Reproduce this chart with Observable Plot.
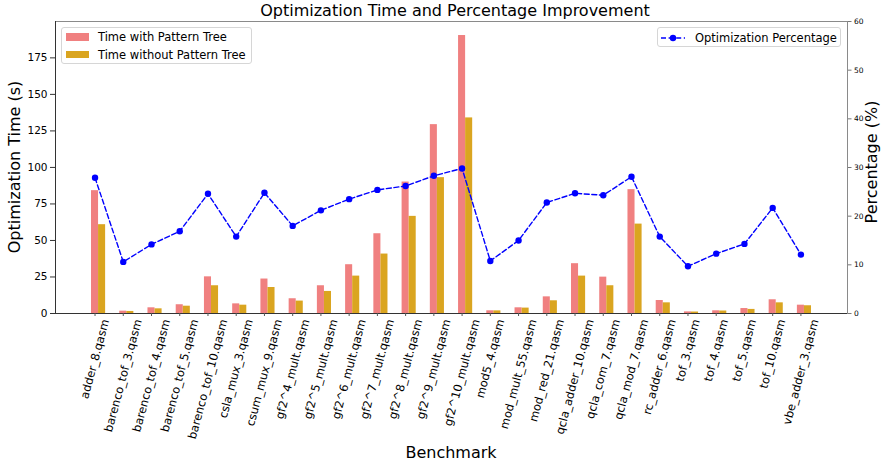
<!DOCTYPE html>
<html><head><meta charset="utf-8">
<script src="https://cdn.jsdelivr.net/npm/d3@7"></script>
<script src="https://cdn.jsdelivr.net/npm/@observablehq/plot@0.6"></script>
<style>
body{margin:0;background:#fff;font-family:"DejaVu Sans",sans-serif;}
#wrap{position:relative;width:884px;height:467px;overflow:hidden;}
#wrap > svg{position:absolute;left:0;top:0;}
.abs{position:absolute;white-space:nowrap;color:#000;}
.legend{position:absolute;background:rgba(255,255,255,0.85);border:1px solid #d6d6d6;border-radius:3px;box-sizing:border-box;font-size:11.5px;}
.row{position:absolute;left:0;display:flex;align-items:center;}
.row svg{display:block;}
</style></head>
<body><div id="wrap"></div>
<script>
const benchmarks = ["adder_8.qasm","barenco_tof_3.qasm","barenco_tof_4.qasm","barenco_tof_5.qasm","barenco_tof_10.qasm","csla_mux_3.qasm","csum_mux_9.qasm","gf2^4_mult.qasm","gf2^5_mult.qasm","gf2^6_mult.qasm","gf2^7_mult.qasm","gf2^8_mult.qasm","gf2^9_mult.qasm","gf2^10_mult.qasm","mod5_4.qasm","mod_mult_55.qasm","mod_red_21.qasm","qcla_adder_10.qasm","qcla_com_7.qasm","qcla_mod_7.qasm","rc_adder_6.qasm","tof_3.qasm","tof_4.qasm","tof_5.qasm","tof_10.qasm","vbe_adder_3.qasm"];
const timeWithPatternTree = [84.1,1.6,3.9,6.0,25.1,6.6,23.6,10.1,19.0,33.4,54.6,90.0,129.3,190.3,1.85,3.9,11.4,34.1,24.9,84.8,8.9,1.1,1.85,3.4,9.4,5.7];
const timeWithoutPatternTree = [60.8,1.4,3.2,5.0,19.0,5.7,17.8,8.5,15.1,25.6,40.7,66.5,93.0,133.9,1.8,3.7,8.7,25.6,19.0,61.2,7.3,1.0,1.7,2.8,7.3,5.3];
const optimizationPercentage = [27.9,10.6,14.2,16.9,24.6,15.8,24.8,18.0,21.2,23.5,25.4,26.2,28.3,29.8,10.8,15.0,22.8,24.7,24.3,28.1,15.8,9.7,12.3,14.3,21.7,12.1];
const timeTicks = [0,25,50,75,100,125,150,175];
const percentTicks = [0,10,20,30,40,50,60];

const timeMax = 199.9, percentMax = 60;
const K = timeMax / percentMax;
const barW = 0.25;
const xDomain = [-1.4, 26.65];

const rows = benchmarks.map((name, i) => ({
  i, name,
  withPT: timeWithPatternTree[i],
  withoutPT: timeWithoutPatternTree[i],
  pct: optimizationPercentage[i]
}));

const chart = Plot.plot({
  width: 884, height: 467,
  marginLeft: 55, marginRight: 37, marginTop: 21, marginBottom: 154,
  style: {fontFamily: "DejaVu Sans", fontSize: "10.5px", color: "#000", background: "#fff"},
  x: {type: "linear", domain: xDomain},
  y: {domain: [0, timeMax]},
  marks: [
    Plot.rectY(rows, {x1: d => d.i - barW/2, x2: d => d.i + barW/2, y1: 0, y2: "withPT", fill: "#F08080"}),
    Plot.rectY(rows, {x1: d => d.i + barW/2, x2: d => d.i + 1.5*barW, y1: 0, y2: "withoutPT", fill: "#DAA520"}),
    Plot.line(rows, {x: "i", y: d => d.pct * K, stroke: "#0000ff", strokeWidth: 1.4, strokeDasharray: "5,2.6"}),
    Plot.dot(rows, {x: "i", y: d => d.pct * K, fill: "#0000ff", r: 3.2}),
    Plot.frame({stroke: "#8a8a8a", strokeWidth: 1}),
    Plot.ruleY([0], {stroke: "#333", strokeWidth: 1}),
    Plot.ruleX([xDomain[0]], {stroke: "#333", strokeWidth: 1}),
    Plot.axisY(timeTicks, {anchor: "left", tickSize: 5, tickPadding: 3, fontSize: 10.5, label: null, stroke: "#333"}),
    Plot.axisY(percentTicks.map(v => v * K), {anchor: "right", tickSize: 3.5, tickPadding: 3, fontSize: 7.5, label: null, stroke: "#777", tickFormat: v => String(Math.round(v / K))}),
    Plot.axisX(rows.map(d => d.i), {anchor: "bottom", tickSize: 3, tickPadding: 3, fontSize: 11.5, label: null, stroke: "#555", tickRotate: -75, textAnchor: "end", tickFormat: i => benchmarks[i]})
  ]
});

const wrap = document.getElementById("wrap");
wrap.appendChild(chart);

// matplotlib-style centering of rotated tick labels on their ticks
const rad = 75 * Math.PI / 180;
chart.querySelectorAll('g[aria-label="x-axis tick label"] text').forEach(t => {
  const L = t.getComputedTextLength();
  const old = t.getAttribute("transform") || "";
  t.setAttribute("transform", `translate(${(L * Math.cos(rad) / 2).toFixed(2)},0) ${old}`);
});

function addText(txt, css) {
  const d = document.createElement("div");
  d.className = "abs";
  d.textContent = txt;
  Object.assign(d.style, css);
  wrap.appendChild(d);
  return d;
}
addText("Optimization Time and Percentage Improvement", {left: "59px", width: "792px", textAlign: "center", top: "1px", fontSize: "16px", lineHeight: "20px"});
addText("Benchmark", {left: "55px", width: "792px", textAlign: "center", top: "443px", fontSize: "16px", lineHeight: "20px"});
addText("Optimization Time (s)", {left: "14.5px", top: "167px", fontSize: "16px", lineHeight: "20px", transform: "translate(-50%,-50%) rotate(-90deg)"});
addText("Percentage (%)", {left: "872px", top: "162px", fontSize: "16px", lineHeight: "20px", transform: "translate(-50%,-50%) rotate(-90deg)"});

// legend for bars
const leg1 = document.createElement("div");
leg1.className = "legend";
Object.assign(leg1.style, {left: "61px", top: "27px", width: "191px", height: "37px"});
[["Time with Pattern Tree", "#F08080", 5], ["Time without Pattern Tree", "#DAA520", 22.5]].forEach(([label, color, top]) => {
  const r = document.createElement("div");
  r.className = "row";
  r.style.top = top + "px";
  r.style.height = "8px";
  r.innerHTML = `<span style="display:inline-block;margin-left:4px;width:23px;height:7.5px;background:${color}"></span><span style="margin-left:9px;line-height:8px">${label}</span>`;
  leg1.appendChild(r);
});
wrap.appendChild(leg1);

// legend for line
const leg2 = document.createElement("div");
leg2.className = "legend";
Object.assign(leg2.style, {left: "657px", top: "27px", width: "184px", height: "20px"});
const r2 = document.createElement("div");
r2.className = "row";
r2.style.top = "5.5px";
r2.style.height = "8px";
r2.innerHTML = `<svg width="27" height="8" style="margin-left:2px"><line x1="1" x2="25" y1="4" y2="4" stroke="#0000ff" stroke-width="1.4" stroke-dasharray="5,2.6"/><circle cx="13" cy="4" r="3.2" fill="#0000ff"/></svg><span style="margin-left:8px;line-height:8px">Optimization Percentage</span>`;
leg2.appendChild(r2);
wrap.appendChild(leg2);
</script>
</body></html>
